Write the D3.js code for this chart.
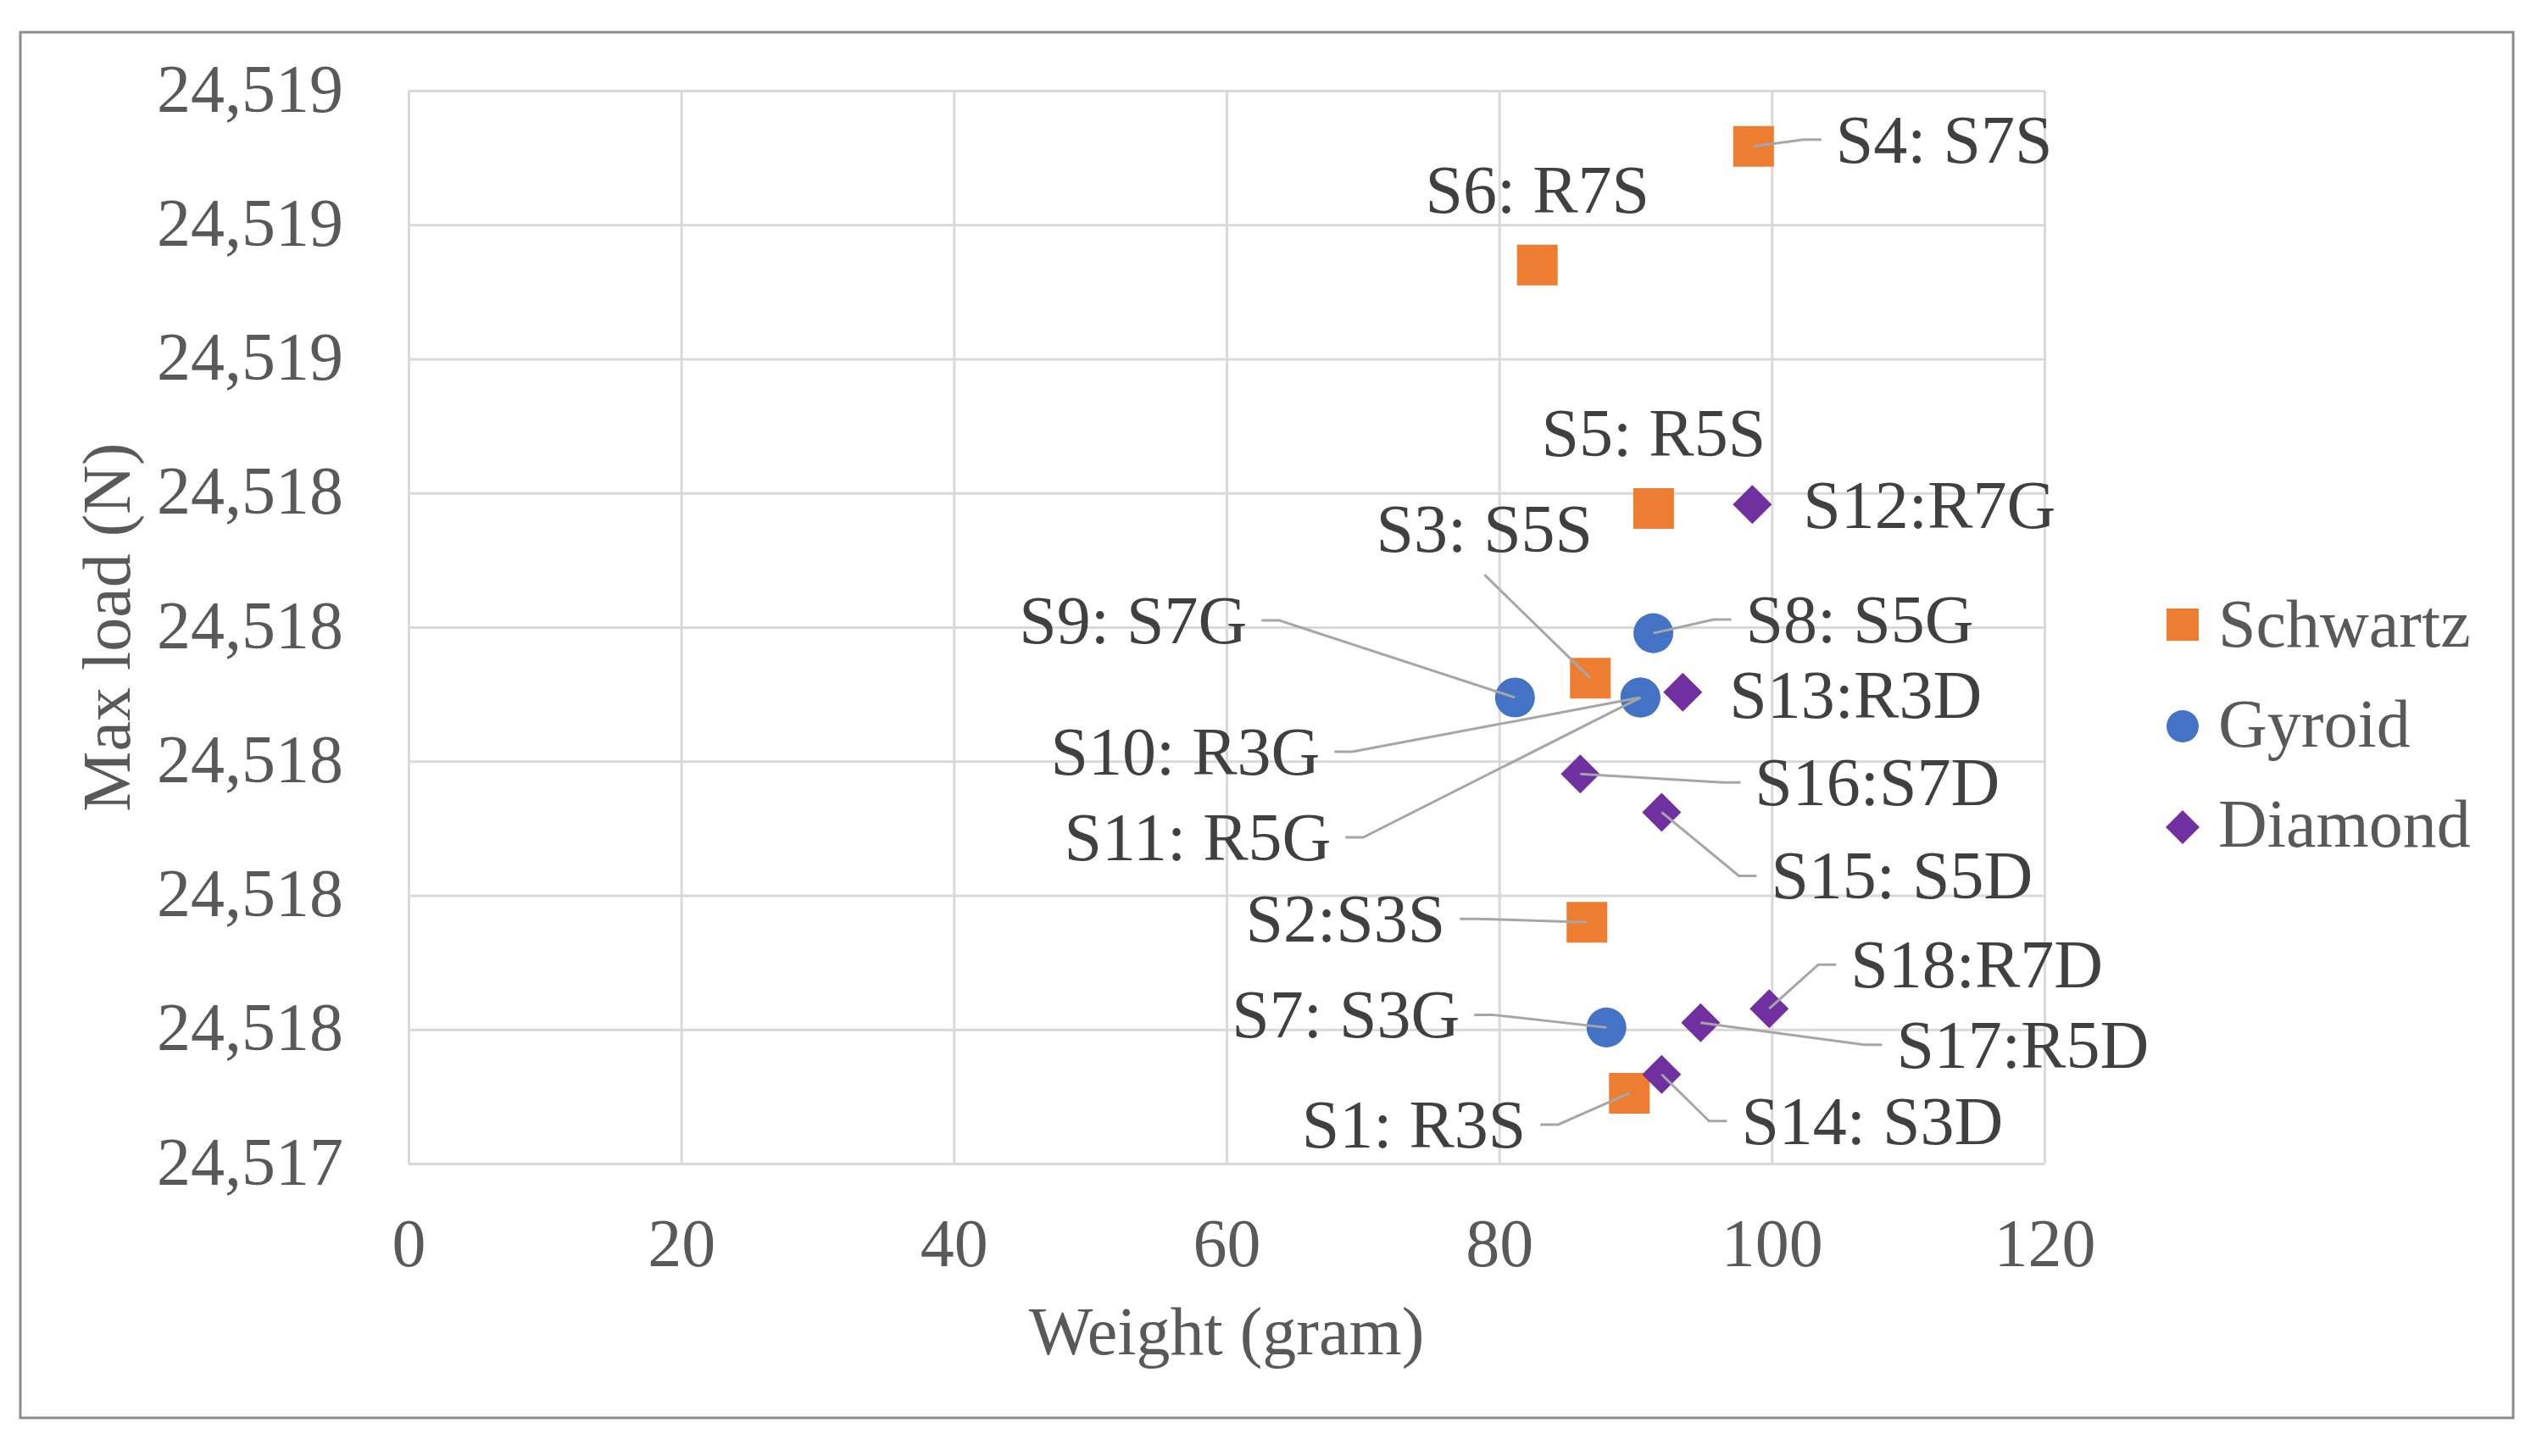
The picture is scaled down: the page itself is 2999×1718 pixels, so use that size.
<!DOCTYPE html>
<html>
<head>
<meta charset="utf-8">
<script src="https://cdn.jsdelivr.net/npm/d3@7"></script>
<style>
  html, body { margin: 0; padding: 0; background: #fff; }
  svg { display: block; }
</style>
</head>
<body>
<svg id="chart" width="2999" height="1718"></svg>
<script>
// Data
const seriesNames = ['Schwartz', 'Gyroid', 'Diamond'];

const schwartzLabels = ['S1: R3S', 'S2:S3S', 'S3: S5S', 'S4: S7S', 'S5: R5S', 'S6: R7S'];
const schwartzWeight = [89.55, 86.44, 86.69, 98.66, 91.33, 82.80];
const schwartzLoad   = [24517.505, 24517.760, 24518.124, 24518.917, 24518.377, 24518.740];

const gyroidLabels = ['S7: S3G', 'S8: S5G', 'S9: S7G', 'S10: R3G', 'S11: R5G'];
const gyroidWeight = [87.87, 91.31, 81.16, 90.36, 90.36];
const gyroidLoad   = [24517.603, 24518.191, 24518.095, 24518.095, 24518.095];

const diamondLabels = ['S12:R7G', 'S13:R3D', 'S14: S3D', 'S15: S5D', 'S16:S7D', 'S17:R5D', 'S18:R7D'];
const diamondWeight = [98.57, 93.47, 91.92, 91.92, 85.95, 94.78, 99.81];
const diamondLoad   = [24518.383, 24518.103, 24517.533, 24517.924, 24517.981, 24517.610, 24517.631];

const xTicks = [0, 20, 40, 60, 80, 100, 120];
const yTicks = [24517.4, 24517.6, 24517.8, 24518.0, 24518.2, 24518.4, 24518.6, 24518.8, 24519.0];

const xTitle = 'Weight (gram)';
const yTitle = 'Max load (N)';

// Where each data label sits, in pixels from its point (layout only)
const labelPlacement = {
  'S1: R3S':  { dx: -122, dy: 64,  anchor: 'end',    leader: 'side' },
  'S2:S3S':   { dx: -167, dy: 23,  anchor: 'end',    leader: 'side' },
  'S3: S5S':  { dx: -125, dy: -149, anchor: 'middle', leader: 'bottom' },
  'S4: S7S':  { dx: 97,   dy: 19,  anchor: 'start',  leader: 'side' },
  'S5: R5S':  { dx: 0,    dy: -62, anchor: 'middle', leader: null },
  'S6: R7S':  { dx: 0,    dy: -62, anchor: 'middle', leader: null },
  'S7: S3G':  { dx: -173, dy: 12,  anchor: 'end',    leader: 'side' },
  'S8: S5G':  { dx: 109,  dy: 11,  anchor: 'start',  leader: 'side' },
  'S9: S7G':  { dx: -316, dy: -64, anchor: 'end',    leader: 'side' },
  'S10: R3G': { dx: -378, dy: 91,  anchor: 'end',    leader: 'side' },
  'S11: R5G': { dx: -365, dy: 192, anchor: 'end',    leader: 'side' },
  'S12:R7G':  { dx: 60,   dy: 28,  anchor: 'start',  leader: null },
  'S13:R3D':  { dx: 55,   dy: 30,  anchor: 'start',  leader: null },
  'S14: S3D': { dx: 94,   dy: 82,  anchor: 'start',  leader: 'side' },
  'S15: S5D': { dx: 129,  dy: 102, anchor: 'start',  leader: 'side' },
  'S16:S7D':  { dx: 206,  dy: 37,  anchor: 'start',  leader: 'side' },
  'S17:R5D':  { dx: 231,  dy: 53,  anchor: 'start',  leader: 'side' },
  'S18:R7D':  { dx: 96,   dy: -25, anchor: 'start',  leader: 'side' }
};

const FONT = "'Liberation Serif', 'Times New Roman', serif";
const colors = { Schwartz: '#ED7D31', Gyroid: '#4472C4', Diamond: '#7030A0' };

const svg = d3.select('#chart');

// chart frame
svg.append('rect')
  .attr('x', 24).attr('y', 38)
  .attr('width', 2941).attr('height', 1635)
  .attr('fill', '#fff').attr('stroke', '#8c8c8c').attr('stroke-width', 3);

const plot = { left: 482, right: 2412, top: 107, bottom: 1373 };

const x = d3.scaleLinear().domain([0, 120]).range([plot.left, plot.right]);
const y = d3.scaleLinear().domain([24517.4, 24519.0]).range([plot.bottom, plot.top]);

// gridlines
svg.append('g')
  .attr('transform', `translate(0,${plot.bottom})`)
  .call(d3.axisBottom(x).tickValues(xTicks).tickSize(-(plot.bottom - plot.top)).tickFormat(''))
  .call(g => g.select('.domain').remove())
  .selectAll('line').attr('stroke', '#d9d9d9').attr('stroke-width', 3);

svg.append('g')
  .attr('transform', `translate(${plot.left},0)`)
  .call(d3.axisLeft(y).tickValues(yTicks).tickSize(-(plot.right - plot.left)).tickFormat(''))
  .call(g => g.select('.domain').remove())
  .selectAll('line').attr('stroke', '#d9d9d9').attr('stroke-width', 3);

// tick labels
const xAxis = svg.append('g')
  .attr('transform', `translate(0,${plot.bottom})`)
  .call(d3.axisBottom(x).tickValues(xTicks).tickSize(0));
xAxis.select('.domain').remove();
xAxis.selectAll('text')
  .attr('y', 121).attr('dy', null)
  .attr('fill', '#595959')
  .style('font-family', FONT).style('font-size', '80px');

const yAxis = svg.append('g')
  .attr('transform', `translate(${plot.left},0)`)
  .call(d3.axisLeft(y).tickValues(yTicks).tickSize(0).tickFormat(d3.format(',.0f')));
yAxis.select('.domain').remove();
yAxis.selectAll('text')
  .attr('x', -77).attr('dy', null).attr('y', 24)
  .attr('fill', '#595959')
  .style('font-family', FONT).style('font-size', '80px');

// axis titles
svg.append('text')
  .attr('x', (plot.left + plot.right) / 2).attr('y', 1598)
  .attr('text-anchor', 'middle')
  .attr('fill', '#595959')
  .style('font-family', FONT).style('font-size', '80px')
  .text(xTitle);

svg.append('text')
  .attr('transform', `translate(153,${(plot.top + plot.bottom) / 2}) rotate(-90)`)
  .attr('text-anchor', 'middle')
  .attr('fill', '#595959')
  .style('font-family', FONT).style('font-size', '80px')
  .text(yTitle);

// build point list
function makeSeries(name, labels, wts, loads) {
  return labels.map((l, i) => ({ series: name, label: l, w: wts[i], load: loads[i] }));
}
const points = [].concat(
  makeSeries('Schwartz', schwartzLabels, schwartzWeight, schwartzLoad),
  makeSeries('Gyroid', gyroidLabels, gyroidWeight, gyroidLoad),
  makeSeries('Diamond', diamondLabels, diamondWeight, diamondLoad)
);
points.forEach(p => { p.px = x(p.w); p.py = y(p.load); });

function markerPath(series, size) {
  if (series === 'Schwartz') {
    const h = size / 2;
    return `M${-h},${-h}H${h}V${h}H${-h}Z`;
  }
  if (series === 'Gyroid') {
    return d3.symbol().type(d3.symbolCircle).size(Math.PI * (size / 2) * (size / 2))();
  }
  const r = size / 2;
  return `M0,${-r}L${r},0L0,${r}L${-r},0Z`;
}
const markerSize = { Schwartz: 48, Gyroid: 47, Diamond: 46 };

// markers
svg.append('g').selectAll('path')
  .data(points).enter().append('path')
  .attr('transform', d => `translate(${d.px},${d.py})`)
  .attr('d', d => markerPath(d.series, markerSize[d.series]))
  .attr('fill', d => colors[d.series]);

// leader lines
function leaderPath(p) {
  const L = labelPlacement[p.label];
  const tx = p.px + L.dx;
  const base = p.py + L.dy;
  if (L.leader === 'bottom') return `M${tx},${base + 27}L${p.px},${p.py}`;
  const mid = base - 27;
  const s = L.anchor === 'end' ? 1 : -1;
  const x0 = tx + s * 17, x1 = tx + s * 38;
  return `M${x0},${mid}L${x1},${mid}L${p.px},${p.py}`;
}
svg.append('g').selectAll('path')
  .data(points.filter(p => labelPlacement[p.label].leader)).enter().append('path')
  .attr('d', leaderPath)
  .attr('fill', 'none')
  .attr('stroke', '#a6a6a6')
  .attr('stroke-width', 3);

// data labels
svg.append('g').selectAll('text')
  .data(points).enter().append('text')
  .attr('x', d => d.px + labelPlacement[d.label].dx)
  .attr('y', d => d.py + labelPlacement[d.label].dy)
  .attr('text-anchor', d => labelPlacement[d.label].anchor)
  .attr('fill', '#404040')
  .style('font-family', FONT).style('font-size', '80px')
  .text(d => d.label);

// legend
const legendSize = { Schwartz: 38, Gyroid: 38, Diamond: 40 };
const legend = svg.append('g').attr('transform', 'translate(2575,736)');
seriesNames.forEach((name, i) => {
  const row = legend.append('g').attr('transform', `translate(0,${i * 118})`);
  row.append('path')
    .attr('d', markerPath(name, legendSize[name]))
    .attr('transform', `translate(0,${i === 0 ? 1 : 2 + i})`)
    .attr('fill', colors[name]);
  row.append('text')
    .attr('x', 42).attr('y', 27)
    .attr('fill', '#595959')
    .style('font-family', FONT).style('font-size', '80px')
    .text(name);
});
</script>
</body>
</html>
